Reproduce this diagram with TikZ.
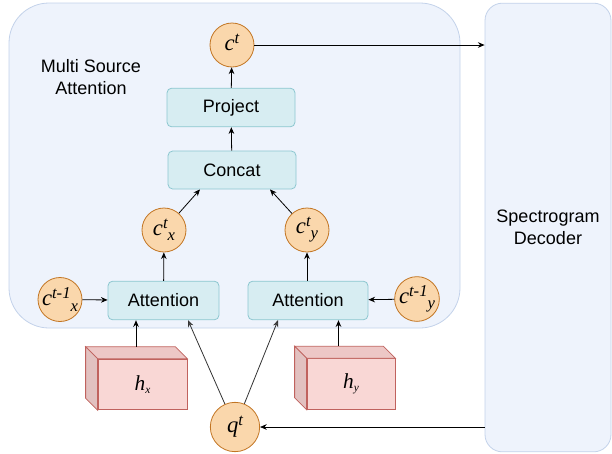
\documentclass[tikz,border=0pt]{standalone}
\usepackage{fontspec}
\setmainfont{Liberation Sans}
\newfontfamily\varfont{Liberation Serif}
\usetikzlibrary{arrows.meta,calc}

\definecolor{panelfill}{HTML}{EEF3FC}
\definecolor{paneldraw}{HTML}{C3D2EA}
\definecolor{opfill}{HTML}{D7EDF2}
\definecolor{opdraw}{HTML}{8DC7D0}
\definecolor{vecfill}{HTML}{FAD7AC}
\definecolor{vecdraw}{HTML}{C27523}
\definecolor{encfront}{HTML}{F9D7D5}
\definecolor{enctop}{HTML}{EDC7C6}
\definecolor{encside}{HTML}{E2C1C0}
\definecolor{encdraw}{HTML}{C0625E}
\definecolor{qline}{HTML}{333333}

% variable with a superscript and a following subscript
\newcommand{\var}[3]{{\varfont\itshape\fontsize{17}{17}\selectfont #1\raisebox{0.62ex}{\fontsize{12.5}{12.5}\selectfont #2}\raisebox{-0.55ex}{\fontsize{12.5}{12.5}\selectfont #3}}}
% encoder output with a small subscript
\newcommand{\enc}[2]{{\varfont\itshape\fontsize{16}{16}\selectfont #1\raisebox{-0.25ex}{\fontsize{8.5}{8.5}\selectfont #2}}}

\tikzset{
  panel/.style={fill=panelfill, draw=paneldraw, line width=0.6pt},
  op/.style={rectangle, rounded corners=3.5pt, fill=opfill, draw=opdraw,
    line width=0.6pt, minimum height=29pt, font=\fontsize{13.5}{16}\selectfont},
  vec/.style={circle, fill=vecfill, draw=vecdraw, line width=0.6pt,
    minimum size=33pt, inner sep=0pt},
  encface/.style={draw=encdraw, line width=0.6pt, line join=miter},
  arr/.style={-{Stealth[length=5pt,width=4.2pt]}, line width=0.6pt},
  qarr/.style={-{Stealth[length=5pt,width=4.2pt,fill=gray!80!black]}, draw=qline, line width=0.6pt},
  label/.style={align=center, font=\fontsize{13.5}{16.5}\selectfont}
}

\begin{document}
\begin{tikzpicture}[x=0.75pt, y=-0.75pt]
\useasboundingbox (0,0) rectangle (612,454);

% outer panel of the attention module
\draw[panel, rounded corners=30pt] (9,3) rectangle (460,328);
\node[label] (title) at (91,77) {Multi Source\\Attention};

% decoder column
\node[panel, rectangle, rounded corners=13pt, minimum width=94.5pt,
      minimum height=336.5pt, label, inner sep=0pt] (dec) at (548,227.5)
      {Spectrogram\\Decoder};

% operations
\node[op, minimum width=96pt] (proj) at (231,107.5) {Project};
\node[op, minimum width=96pt, minimum height=28.5pt] (concat) at (232,170) {Concat};
\node[op, minimum width=83.25pt] (attL) at (163.5,300.5) {Attention};
\node[op, minimum width=90pt] (attR) at (308,300.5) {Attention};

% context and query vectors
\node[vec] (ct)  at (232,45)    {\var{c}{t}{}};
\node[vec] (ctx) at (164,230)   {\var{c}{t}{x}};
\node[vec] (cty) at (307,230)   {\var{c}{t}{y}};
\node[vec] (cpx) at (60,299.5)  {\var{c}{t-1}{x}};
\node[vec] (cpy) at (417,299)   {\var{c}{t-1}{y}};
\node[vec, minimum size=37pt] (qt) at (235,427) {\var{q}{t}{}};

% encoder outputs drawn as cuboids
\foreach \n/\pos/\w/\txt in {hx/{(142.5,384.5)}/66.75pt/x, hy/{(351,384)}/66pt/y}{
  \node[rectangle, fill=encfront, encface, minimum width=\w, minimum height=38pt,
        inner sep=0pt] (\n) at \pos {\enc{h}{\txt}};
  \draw[encface, fill=enctop]
    (\n.north west) -- ($(\n.north west)+(-12,-12)$) -- ($(\n.north east)+(-12,-12)$)
    -- (\n.north east) -- cycle;
  \draw[encface, fill=encside]
    (\n.north west) -- ($(\n.north west)+(-12,-12)$) -- ($(\n.south west)+(-12,-12)$)
    -- (\n.south west) -- cycle;
}
\coordinate (hxtop) at ($(hx.north)+(-6.5,-12)$);
\coordinate (hytop) at ($(hy.north)+(-12.5,-12)$);

% connectors
\draw[arr] (proj) -- (ct);
\draw[arr] (concat) -- (proj);
\draw[arr] (ctx) -- ($(concat.south)+(-32,0)$);
\draw[arr] (cty) -- ($(concat.south)+(38,0)$);
\draw[arr] (attL) -- (ctx);
\draw[arr] (attR.north -| cty) -- (cty);
\draw[arr] (cpx) -- (attL);
\draw[arr] (cpy) -- (attR);
\draw[arr] (hxtop) -- (attL.south -| hxtop);
\draw[arr] (hytop) -- (attR.south -| hytop);
\draw[qarr] (qt) -- ($(attL.south)+(24.5,0)$);
\draw[qarr] (qt) -- ($(attR.south)+(-30,0)$);
\draw[arr] (ct) -- (dec.west |- ct);
\draw[arr] (dec.west |- qt) -- (qt);
\end{tikzpicture}
\end{document}
